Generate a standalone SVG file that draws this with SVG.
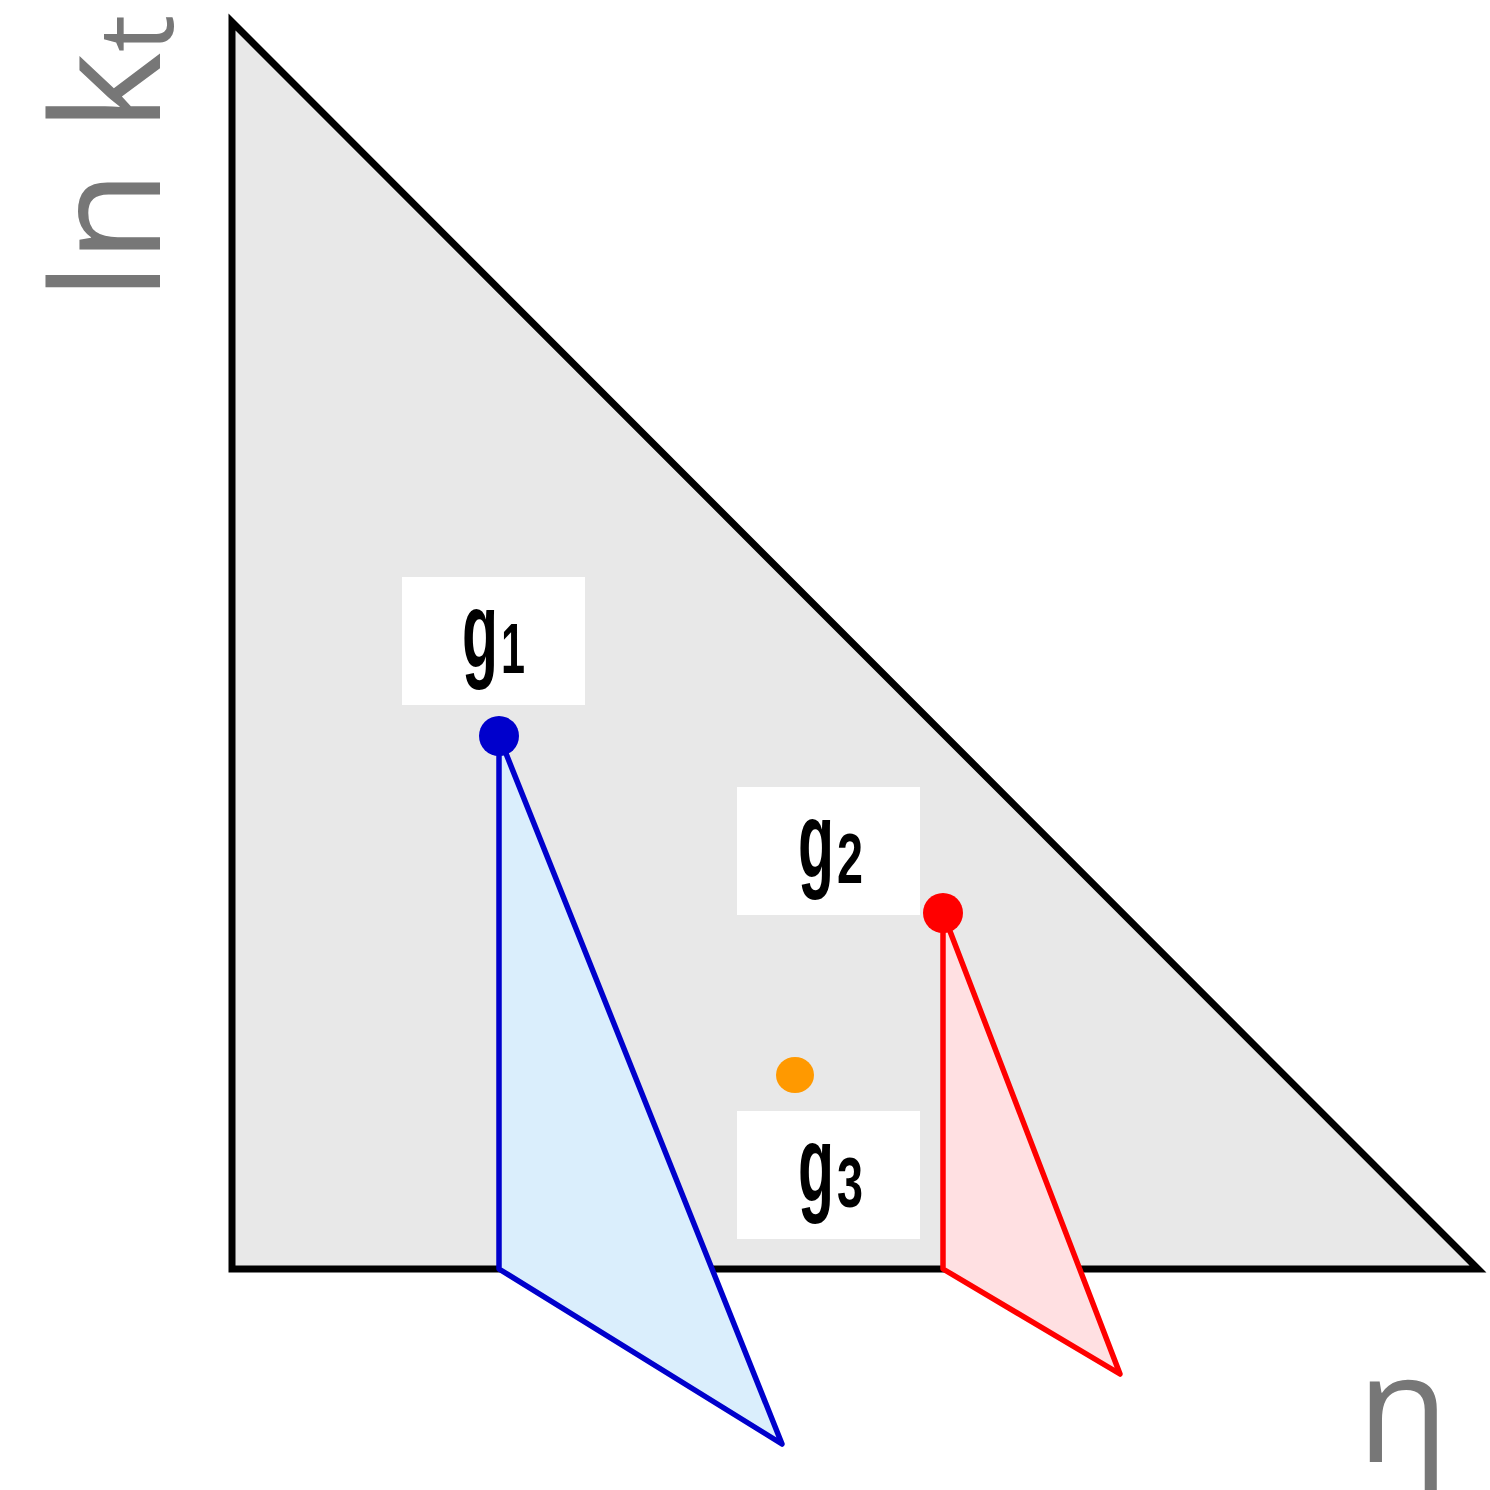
<svg xmlns="http://www.w3.org/2000/svg" width="1490" height="1490" viewBox="0 0 1490 1490">
<style>
.axis{font-family:"Open Sans","Noto Sans",sans-serif;fill:#777777}
.lbl{font-family:"Liberation Sans",Arial,sans-serif;font-weight:bold;fill:#000}
.sub{font-size:71px}
.box{fill:#ffffff}
</style>
<rect width="1490" height="1490" fill="#ffffff"/>
<g id="region">
<polygon points="232,22 232,1269 1478,1269" fill="#e8e8e8" stroke="#000" stroke-width="7" stroke-linejoin="miter"/>
</g>
<g id="connectors">
<polygon id="cone1" points="499,736 499,1269 782,1444" fill="#daeefc" stroke="#0000cc" stroke-width="5.5" stroke-linejoin="round"/>
<polygon id="cone2" points="943,913 943,1269 1120,1374" fill="#ffe0e2" stroke="#ff0000" stroke-width="5.5" stroke-linejoin="round"/>
</g>
<g id="g1">
<rect class="box" x="402" y="577" width="183" height="128"/>
<text class="lbl" font-size="108"><tspan x="462" y="668" textLength="36" lengthAdjust="spacingAndGlyphs">g</tspan><tspan class="sub" x="501" y="673" textLength="24" lengthAdjust="spacingAndGlyphs">1</tspan></text>
<circle cx="499" cy="736" r="20" fill="#0000cc"/>
</g>
<g id="g2">
<rect class="box" x="737" y="787" width="183" height="128"/>
<text class="lbl" font-size="108"><tspan x="798" y="878" textLength="36" lengthAdjust="spacingAndGlyphs">g</tspan><tspan class="sub" x="837" y="883" textLength="26" lengthAdjust="spacingAndGlyphs">2</tspan></text>
<circle cx="943" cy="913" r="20" fill="#ff0000"/>
</g>
<g id="g3">
<rect class="box" x="737" y="1111" width="183" height="128"/>
<text class="lbl" font-size="108"><tspan x="798" y="1202" textLength="36" lengthAdjust="spacingAndGlyphs">g</tspan><tspan class="sub" x="837" y="1207" textLength="26" lengthAdjust="spacingAndGlyphs">3</tspan></text>
<ellipse cx="795" cy="1075" rx="19" ry="18" fill="#ff9900"/>
</g>
<g id="axes">
<text class="axis" transform="translate(160,300) rotate(-90)" font-size="150">ln k<tspan font-size="105" dy="13">t</tspan></text>
<text class="axis" x="1357" y="1462" font-size="150">η</text>
</g>
</svg>
